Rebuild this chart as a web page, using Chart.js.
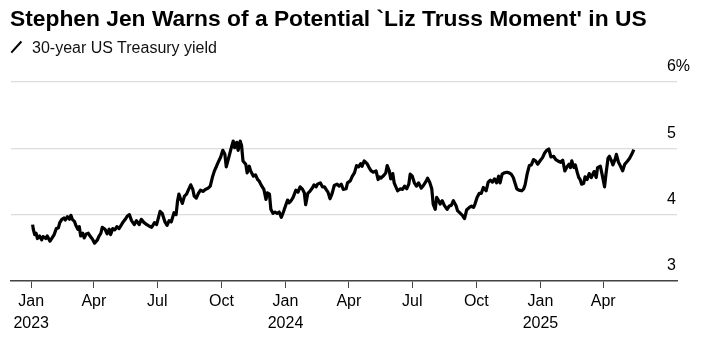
<!DOCTYPE html>
<html>
<head>
<meta charset="utf-8">
<script src="https://cdn.jsdelivr.net/npm/chart.js@4.4.1/dist/chart.umd.min.js"></script>
<style>
  body { margin: 0; background: #fff; }
  #wrap { position: relative; width: 704px; height: 348px; font-family: "Liberation Sans", Arial, sans-serif; }
  #title { position: absolute; left: 10px; top: 7px; font-size: 22.8px; line-height: 1; font-weight: bold; color: #000; white-space: nowrap; }
  #subtitle { position: absolute; left: 32px; top: 40px; font-size: 16px; line-height: 1; color: #111; white-space: nowrap; }
  #icon { position: absolute; left: 9px; top: 46px; width: 15px; height: 2.4px; background: #000; transform: rotate(-48deg); }
  #chart { position: absolute; left: 0; top: 0; }
</style>
</head>
<body>
<div id="wrap">
  <canvas id="chart" width="704" height="348"></canvas>
  <div id="title">Stephen Jen Warns of a Potential `Liz Truss Moment' in US</div>
  <div id="icon"></div>
  <div id="subtitle">30-year US Treasury yield</div>
</div>
<script>
// days since 1 Jan 2023
const dayOffsets = [
  2,3,5,7,9,12,15,17,21,23,27,30,33,36,39,41,44,47,49,52,55,57,59,62,64,67,69,71,74,76,79,82,85,88,91,95,97,100,102,106,109,112,114,117,120,123,126,129,132,135,138,141,
  144,148,151,155,158,162,166,169,173,177,180,182,185,188,192,195,198,201,205,208,210,212,214,217,220,223,226,229,232,234,237,240,243,247,250,254,257,260,263,266,268,272,275,278,280,
  284,287,290,292,295,297,300,302,304,308,310,313,315,319,322,325,327,331,334,337,339,342,344,347,350,353,356,359,362,365,368,370,373,376,380,383,386,389,392,394,397,400,404,406,409,411,415,418,421,424,
  426,429,432,435,439,442,445,448,452,454,458,461,464,467,470,473,475,478,482,485,488,491,495,498,500,502,506,509,511,514,516,519,521,523,526,530,533,536,539,542,544,547,550,553,556,560,563,566,569,572,
  575,577,580,582,585,587,590,593,597,600,603,606,610,612,616,619,622,625,629,632,635,637,640,643,646,649,653,656,659,662,665,668,671,673,676,679,683,686,689,692,695,697,700,704,707,709,712,
  715,718,721,724,727,731,734,737,740,743,746,750,753,756,760,763,766,769,772,774,776,779,781,784,786,788,790,793,795,798,801,804,808,811,813,817,820,823,825,828,830,833,835,838,840,843,846,849,852,856,859,862,865
];
// 30-year yield, %
const yields = [
  3.85,3.78,3.70,3.72,3.64,3.68,3.62,3.67,3.64,3.68,3.60,3.65,3.70,3.79,3.80,3.88,3.93,3.95,3.92,3.97,3.93,3.99,3.93,3.90,3.84,3.78,3.82,3.68,3.72,3.65,3.71,3.72,3.67,3.63,3.57,3.62,3.67,3.72,3.81,3.78,3.71,3.78,3.70,3.79,3.77,3.82,3.79,3.84,3.89,3.93,3.98,4.00,
  3.91,3.85,3.91,3.85,3.93,3.88,3.85,3.83,3.81,3.88,3.85,3.93,4.05,4.02,3.89,3.84,3.91,3.89,4.03,4.00,4.20,4.31,4.25,4.17,4.28,4.31,4.38,4.45,4.38,4.28,4.25,4.32,4.37,4.35,4.38,4.40,4.43,4.56,4.66,4.73,4.78,4.87,4.97,4.91,4.72,
  4.88,5.00,5.11,5.01,5.09,4.97,5.11,5.04,4.81,4.76,4.63,4.73,4.66,4.58,4.60,4.53,4.51,4.43,4.38,4.23,4.33,4.31,4.08,4.02,4.04,4.02,4.04,3.96,4.04,4.13,4.22,4.18,4.21,4.26,4.37,4.34,4.42,4.39,4.33,4.15,4.32,4.35,4.41,4.45,4.42,4.46,4.48,4.42,4.42,4.37,
  4.34,4.24,4.32,4.44,4.46,4.43,4.46,4.38,4.39,4.48,4.51,4.58,4.63,4.74,4.72,4.77,4.73,4.81,4.77,4.71,4.66,4.64,4.66,4.53,4.57,4.55,4.59,4.63,4.74,4.66,4.54,4.62,4.48,4.43,4.36,4.39,4.38,4.43,4.39,4.46,4.61,4.58,4.48,4.43,4.48,4.40,4.44,4.49,4.55,4.49,
  4.39,4.16,4.08,4.26,4.21,4.16,4.21,4.14,4.08,4.13,4.14,4.21,4.13,4.06,4.02,3.99,3.94,4.07,4.11,4.13,4.11,4.16,4.26,4.32,4.32,4.41,4.36,4.49,4.52,4.49,4.54,4.48,4.58,4.48,4.61,4.63,4.64,4.63,4.61,4.56,4.46,4.39,4.37,4.36,4.39,4.45,4.62,
  4.74,4.75,4.83,4.81,4.76,4.82,4.86,4.93,4.97,4.99,4.87,4.88,4.83,4.81,4.79,4.82,4.66,4.72,4.76,4.71,4.81,4.71,4.75,4.63,4.56,4.53,4.46,4.47,4.57,4.53,4.62,4.56,4.65,4.56,4.71,4.73,4.58,4.42,4.61,4.85,4.88,4.81,4.75,4.83,4.91,4.79,4.73,4.66,4.76,4.81,4.85,4.91,4.98
];

// x axis ticks
const tickDays = [0, 90, 181, 273, 365, 456, 547, 639, 731, 821];
const tickMonths = ['Jan', 'Apr', 'Jul', 'Oct', 'Jan', 'Apr', 'Jul', 'Oct', 'Jan', 'Apr'];
const tickYears = ['2023', '', '', '', '2024', '', '', '', '2025', ''];
// y axis ticks
const yTicks = [3, 4, 5, 6];

const points = dayOffsets.map((d, i) => ({ x: d, y: yields[i] }));
const font = { family: '"Liberation Sans", Arial, sans-serif', size: 16, lineHeight: 1.35 };

new Chart(document.getElementById('chart'), {
    type: 'line',
    data: {
        datasets: [{
            label: '30-year US Treasury yield',
            data: points,
            borderColor: '#000',
            borderWidth: 3.2,
            borderJoinStyle: 'round',
            pointRadius: 0,
            tension: 0
        }]
    },
    options: {
        responsive: false,
        animation: false,
        layout: { padding: { left: 11, top: 82, right: 0, bottom: 0 } },
        plugins: { legend: { display: false }, tooltip: { enabled: false } },
        scales: {
            x: {
                type: 'linear',
                min: -29,
                max: 927,
                afterBuildTicks: s => { s.ticks = tickDays.map(v => ({ value: v })); },
                afterFit: s => { s.height = 67; },
                grid: { drawOnChartArea: false, drawTicks: true, tickLength: 7, tickColor: '#444', tickWidth: 1 },
                border: { color: '#444', width: 1.5 },
                ticks: {
                    autoSkip: false,
                    maxRotation: 0,
                    padding: 3,
                    color: '#000',
                    font: font,
                    callback: (v, i) => tickYears[i] ? [tickMonths[i], tickYears[i]] : tickMonths[i]
                }
            },
            y: {
                position: 'right',
                min: 3,
                max: 6,
                afterBuildTicks: s => { s.ticks = yTicks.map(v => ({ value: v })); },
                afterFit: s => { s.width = 27; },
                grid: { color: '#dcdcdc', lineWidth: 1.2, drawTicks: false },
                border: { display: false },
                ticks: {
                    mirror: true,
                    crossAlign: 'far',
                    padding: 13,
                    labelOffset: -15,
                    color: '#000',
                    font: { family: font.family, size: 16 },
                    callback: v => v === 6 ? '6%' : String(v)
                }
            }
        }
    }
});
</script>
</body>
</html>
